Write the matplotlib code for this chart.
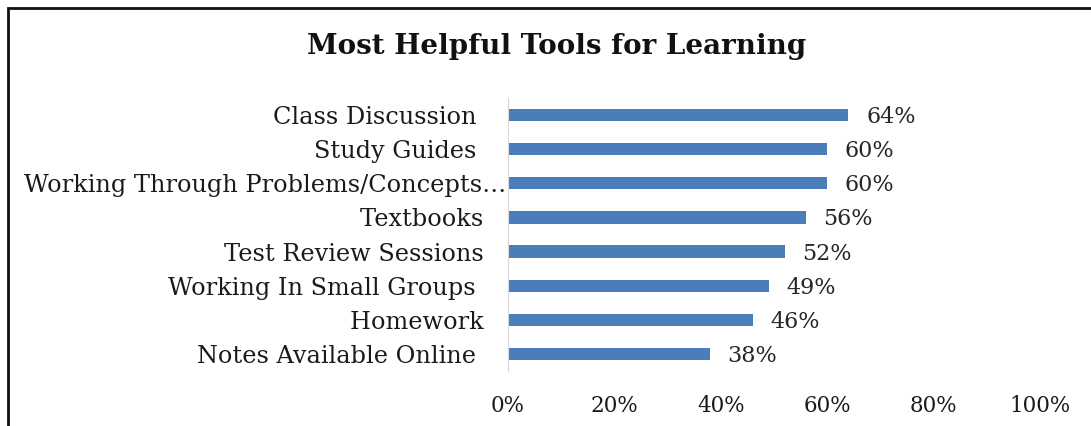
import matplotlib
matplotlib.use('Agg')
import matplotlib.pyplot as plt
from matplotlib.patches import Rectangle

# data, top to bottom (trailing spaces as in the source labels)
tools = ['Class Discussion    ', 'Study Guides    ', 'Working Through Problems/Concepts\u2026',
         'Textbooks   ', 'Test Review Sessions   ', 'Working In Small Groups    ',
         'Homework   ', 'Notes Available Online    ']
share = [0.64, 0.60, 0.60, 0.56, 0.52, 0.49, 0.46, 0.38]
ticks = [0, 0.2, 0.4, 0.6, 0.8, 1.0]
tick_labels = ['0%', '20%', '40%', '60%', '80%', '100%']

plt.rcParams['font.family'] = ['DejaVu Serif']

fig = plt.figure(figsize=(10.91, 4.26), dpi=100)
ax = fig.add_axes([508/1091, 1 - 371/426, 532/1091, 273/426])

ypos = list(range(len(tools)))[::-1]
ax.barh(ypos, share, height=0.36, color='#4a7ebb')
for y, v in zip(ypos, share):
    ax.text(v + 0.033, y - 0.06, '%d%%' % round(v * 100), va='center', ha='left',
            fontsize=16, color='#262626')

ax.set_xlim(0, 1)
ax.set_ylim(-0.5, 7.5)
ax.set_yticks(ypos)
ax.set_yticklabels(tools, fontsize=17.3, color='#1a1a1a')
ax.set_xticks(ticks)
ax.set_xticklabels(tick_labels, fontsize=15.5, color='#1a1a1a')
ax.tick_params(axis='both', length=0)
ax.tick_params(axis='y', pad=1)
ax.tick_params(axis='x', pad=17)
for s in ['top', 'right', 'bottom']:
    ax.spines[s].set_visible(False)
ax.spines['left'].set_color('#d9d9d9')

fig.text(557/1091, 1 - 47/426, 'Most Helpful Tools for Learning', ha='center', va='center',
         fontsize=20, fontweight='bold', color='#111111')

# chart frame, runs off the right and bottom edges
fig.patches.append(Rectangle((8/1091, -0.2), 1.2, 1 - 8/426 + 0.2, transform=fig.transFigure,
                             fill=False, edgecolor='#111111', linewidth=2))

fig.savefig('out.png', dpi=100)
